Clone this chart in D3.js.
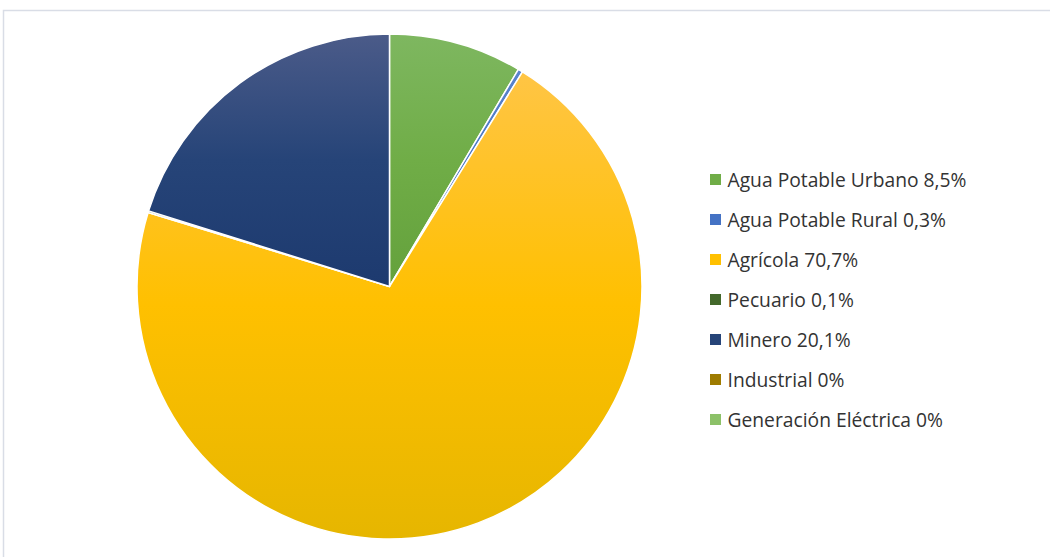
<!DOCTYPE html>
<html>
<head>
<meta charset="utf-8">
<script src="https://cdn.jsdelivr.net/npm/d3@7/dist/d3.min.js"></script>
<style>
  html, body { margin: 0; padding: 0; background: #fff; }
  svg { display: block; }
</style>
</head>
<body>
<svg id="chart" width="1050" height="557"></svg>
<script>
// Water use by sector (%)
const categories = [
  "Agua Potable Urbano",
  "Agua Potable Rural",
  "Agrícola",
  "Pecuario",
  "Minero",
  "Industrial",
  "Generación Eléctrica"
];
const values = [8.5, 0.3, 70.7, 0.1, 20.1, 0, 0];
const valueLabels = ["8,5%", "0,3%", "70,7%", "0,1%", "20,1%", "0%", "0%"];
// base fill of each sector plus lighter top / darker bottom shades
const baseColors = ["#70ad47", "#4472c4", "#ffc000", "#43682b", "#264478", "#9e7b00", "#8cc168"];
const topColors = ["#7eb760", "#5b84cc", "#ffc545", "#567a3d", "#4b5b89", "#ad8c1c", "#9ccc7c"];
const bottomColors = ["#64a13c", "#3b66b4", "#e6b600", "#3a5c24", "#1d3a6f", "#8c6d00", "#7eb25b"];

const svg = d3.select("#chart");
const W = 1050, H = 557;

// chart area frame
svg.append("rect")
  .attr("x", 3.5).attr("y", 10.5)
  .attr("width", W + 10).attr("height", H + 10)
  .attr("fill", "#fff")
  .attr("stroke", "#d9dde6").attr("stroke-width", 1.5);

const cx = 389.5, cy = 286.5, r = 252.5;

const defs = svg.append("defs");
categories.forEach((c, i) => {
  const g = defs.append("linearGradient")
    .attr("id", "grad" + i)
    .attr("x1", 0).attr("y1", 0)
    .attr("x2", 0).attr("y2", 1);
  g.append("stop").attr("offset", "0%").attr("stop-color", topColors[i]);
  g.append("stop").attr("offset", "50%").attr("stop-color", baseColors[i]);
  g.append("stop").attr("offset", "100%").attr("stop-color", bottomColors[i]);
});

const pie = d3.pie().sort(null).value(d => d);
const arcs = pie(values);
const arc = d3.arc().innerRadius(0).outerRadius(r);

const gPie = svg.append("g").attr("transform", `translate(${cx},${cy})`);
gPie.selectAll("path")
  .data(arcs)
  .join("path")
  .attr("d", arc)
  .attr("fill", (d, i) => `url(#grad${i})`)
  .attr("stroke", "#fff")
  .attr("stroke-width", (d) => d.data > 0 ? 1.5 : 0)
  .attr("stroke-linejoin", "round");

// legend
const legendX = 710, legendY0 = 180, legendStep = 40;
const y = d3.scaleLinear().domain([0, 1]).range([legendY0, legendY0 + legendStep]);
const leg = svg.append("g")
  .attr("font-family", "'Open Sans', sans-serif")
  .attr("font-size", 17)
  .attr("fill", "#333");
const texts = [];
categories.forEach((c, i) => {
  const yy = y(i);
  leg.append("rect")
    .attr("x", legendX).attr("y", yy - 6)
    .attr("width", 11).attr("height", 11)
    .attr("fill", baseColors[i]);
  texts.push(leg.append("text")
    .attr("x", legendX + 17.5).attr("y", yy + 6.5)
    .text(c + " " + valueLabels[i]));
});
// size the legend type so the longest entry spans its row width
const w0 = texts[0].node().getComputedTextLength();
leg.attr("font-size", 17 * 239 / w0);
</script>
</body>
</html>
